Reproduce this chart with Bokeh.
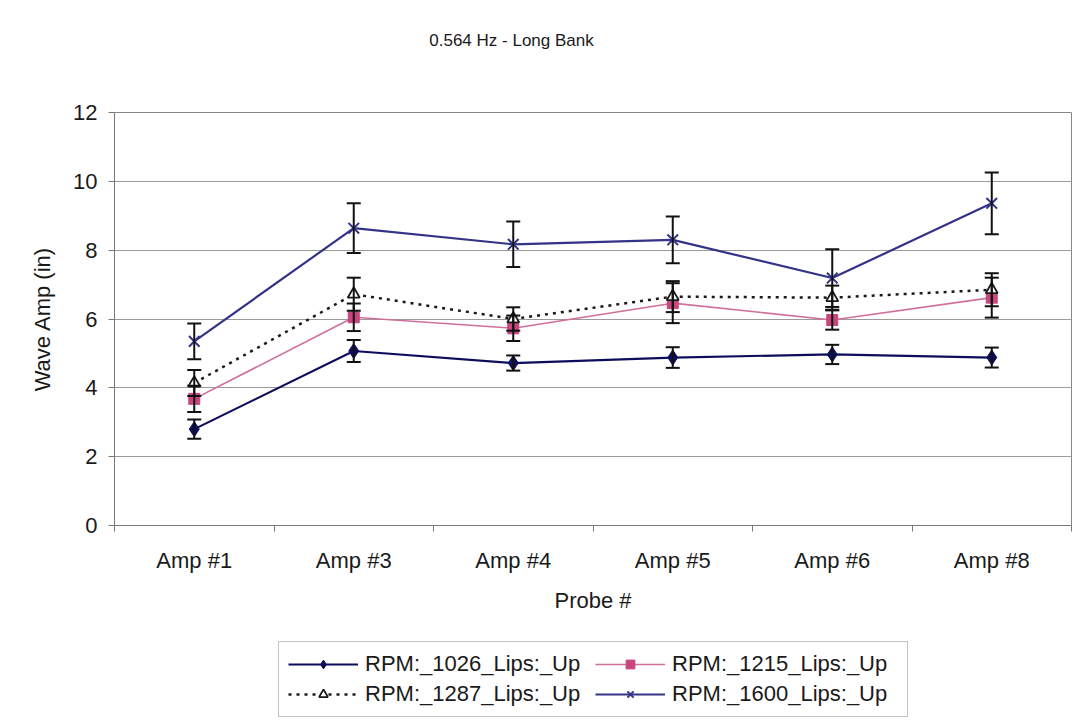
from bokeh.plotting import figure
from bokeh.layouts import column
from bokeh.models import (ColumnDataSource, Whisker, TeeHead, Legend, LegendItem,
                          FixedTicker, Range1d, Label)
from bokeh.embed import file_html
from bokeh.resources import INLINE

# ---- data ----
chart_title = "0.564 Hz - Long Bank"
probes = ["Amp #1", "Amp #3", "Amp #4", "Amp #5", "Amp #6", "Amp #8"]
rpm_1026 = [2.80, 5.07, 4.72, 4.88, 4.97, 4.88]
err_1026 = [0.28, 0.32, 0.22, 0.30, 0.28, 0.29]
rpm_1215 = [3.68, 6.05, 5.73, 6.46, 5.97, 6.62]
err_1215 = [0.38, 0.40, 0.37, 0.58, 0.28, 0.58]
rpm_1287 = [4.14, 6.72, 6.00, 6.65, 6.62, 6.85]
err_1287 = [0.38, 0.48, 0.34, 0.45, 0.35, 0.48]
rpm_1600 = [5.35, 8.64, 8.17, 8.30, 7.19, 9.36]
err_1600 = [0.52, 0.72, 0.66, 0.68, 0.84, 0.90]
series_names = ["RPM:_1026_Lips:_Up", "RPM:_1215_Lips:_Up",
                "RPM:_1287_Lips:_Up", "RPM:_1600_Lips:_Up"]
y_ticks = [0, 2, 4, 6, 8, 10, 12]

FONT = "Liberation Sans"
TXT = "#1a1a1a"

# series styles
STYLES = [
    dict(key="a", line=dict(line_color="#0d0d5c", line_width=2.2),
         mark=dict(marker="diamond", size=15, fill_color="#0d0d5c", line_color="#0d0d5c")),
    dict(key="b", line=dict(line_color="#d0709a", line_width=1.6),
         mark=dict(marker="square", size=11, fill_color="#c8467e", line_color="#c8467e")),
    dict(key="c", line=dict(line_color="#1a1a1a", line_width=2.5, line_dash="3 5"),
         mark=dict(marker="triangle", size=12, fill_color="white", line_color="#1a1a1a",
                   line_width=1.8)),
    dict(key="d", line=dict(line_color="#333388", line_width=2.2),
         mark=dict(marker="x", size=15, line_color="#333388", line_width=2)),
]

x_pos = [i + 0.5 for i in range(len(probes))]
data = dict(x=x_pos)
for key, vals, errs in [("a", rpm_1026, err_1026), ("b", rpm_1215, err_1215),
                        ("c", rpm_1287, err_1287), ("d", rpm_1600, err_1600)]:
    data[key] = vals
    data[key + "_lo"] = [v - e for v, e in zip(vals, errs)]
    data[key + "_hi"] = [v + e for v, e in zip(vals, errs)]
src = ColumnDataSource(data)

# ---- title strip ----
tf = figure(width=1072, height=60, output_backend="svg", toolbar_location=None,
            x_range=Range1d(0, 1), y_range=Range1d(0, 1),
            x_axis_location=None, y_axis_location=None,
            min_border_left=0, min_border_right=0, min_border_top=0,
            min_border_bottom=0)
tf.outline_line_color = None
tf.grid.visible = False
tf.background_fill_color = "white"
tf.border_fill_color = "white"
tf.add_layout(Label(x=397, y=20, x_units="screen", y_units="screen",
                    text=chart_title, text_align="center", text_baseline="middle",
                    text_font=FONT, text_font_size="17px", text_color=TXT))

# ---- main chart ----
p = figure(width=1072, height=570, output_backend="svg", toolbar_location=None,
           x_range=Range1d(0, len(probes)), y_range=Range1d(0, 12),
           min_border_left=114, min_border_right=1, min_border_top=52,
           min_border_bottom=105)
p.background_fill_color = "white"
p.border_fill_color = "white"
p.outline_line_color = "#888888"
p.outline_line_width = 1

# grid
p.xgrid.grid_line_color = None
p.ygrid.grid_line_color = "#9a9a9a"
p.ygrid.grid_line_width = 1

# y axis
yax = p.yaxis[0]
yax.ticker = FixedTicker(ticks=y_ticks)
yax.axis_line_color = "#777777"
yax.major_tick_line_color = "#777777"
yax.major_tick_out = 6
yax.major_tick_in = 0
yax.minor_tick_line_color = None
yax.major_label_standoff = 11
yax.major_label_text_font = FONT
yax.major_label_text_font_size = "22px"
yax.major_label_text_color = TXT
yax.axis_label = "Wave Amp (in)"
yax.axis_label_text_font = FONT
yax.axis_label_text_font_size = "22px"
yax.axis_label_text_font_style = "normal"
yax.axis_label_text_color = TXT
yax.axis_label_standoff = 15

# x axis (labels at category centres, ticks at category boundaries)
xax = p.xaxis[0]
xax.ticker = FixedTicker(ticks=x_pos, minor_ticks=list(range(len(probes) + 1)))
xax.major_label_overrides = {x: lab for x, lab in zip(x_pos, probes)}
xax.axis_line_color = "#777777"
xax.major_tick_line_color = None
xax.major_tick_out = 0
xax.major_tick_in = 0
xax.minor_tick_line_color = "#777777"
xax.minor_tick_out = 6
xax.minor_tick_in = 0
xax.major_label_standoff = 16
xax.major_label_text_font = FONT
xax.major_label_text_font_size = "22px"
xax.major_label_text_color = TXT
xax.axis_label = "Probe #"
xax.axis_label_text_font = FONT
xax.axis_label_text_font_size = "22px"
xax.axis_label_text_font_style = "normal"
xax.axis_label_text_color = TXT
xax.axis_label_standoff = 12

# error bars
for st in STYLES:
    key = st["key"]
    w = Whisker(source=src, base="x", upper=key + "_hi", lower=key + "_lo",
                line_color="#111111", line_width=2, level="glyph",
                upper_head=TeeHead(size=14, line_color="#111111", line_width=2),
                lower_head=TeeHead(size=14, line_color="#111111", line_width=2))
    p.add_layout(w)

# series lines + markers
for st in STYLES:
    p.line("x", st["key"], source=src, **st["line"])
    p.scatter("x", st["key"], source=src, **st["mark"])

# ---- legend strip (separate figure below, same series styles) ----
lf = figure(width=1072, height=88, output_backend="svg", toolbar_location=None,
            x_range=Range1d(0, 1), y_range=Range1d(0, 1),
            x_axis_location=None, y_axis_location=None,
            min_border_left=0, min_border_right=0, min_border_top=0,
            min_border_bottom=0)
lf.outline_line_color = None
lf.grid.visible = False
lf.background_fill_color = "white"
lf.border_fill_color = "white"

nan = float("nan")
legend_src = ColumnDataSource(dict(x=[nan], y=[nan]))
items = []
for name, st in zip(series_names, STYLES):
    rl = lf.line("x", "y", source=legend_src, **st["line"])
    rm = lf.scatter("x", "y", source=legend_src, **st["mark"])
    items.append(LegendItem(label=name, renderers=[rl, rm]))

legend = Legend(items=items, orientation="horizontal", ncols=2,
                location=(164, 1), margin=0, padding=9, spacing=4,
                glyph_width=70, glyph_height=22, label_standoff=7,
                label_width=226, label_text_font=FONT,
                label_text_font_size="22px", label_text_color=TXT,
                border_line_color="#888888", border_line_width=1,
                background_fill_color="white", background_fill_alpha=1)
lf.add_layout(legend)

layout = column(tf, p, lf, spacing=0)
open("out.html", "w").write(file_html(layout, INLINE))
